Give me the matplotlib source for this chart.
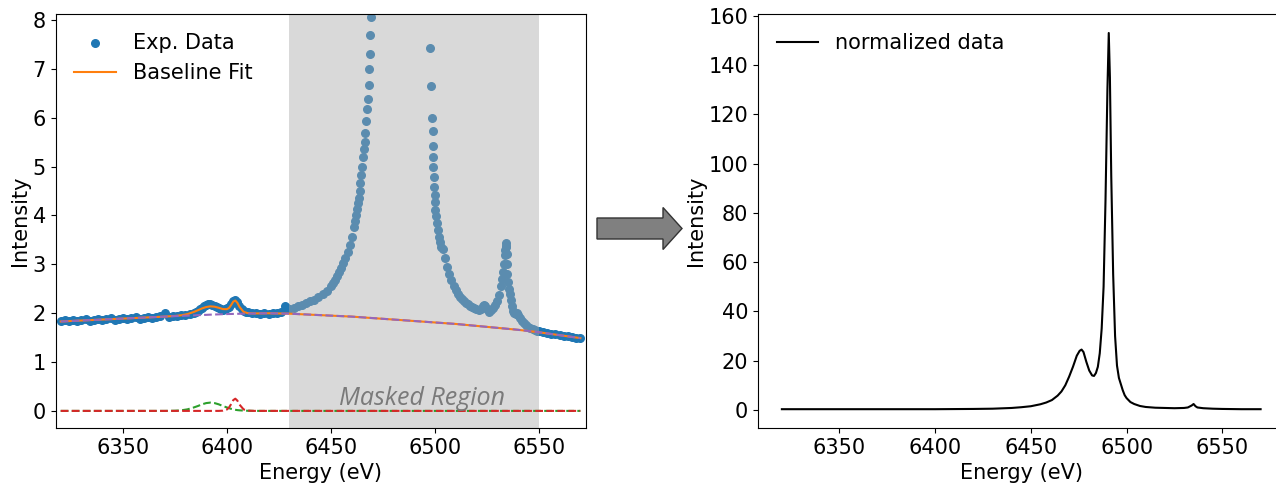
import matplotlib
matplotlib.use("Agg")
import matplotlib.pyplot as plt
from matplotlib.patches import FancyArrow

# experimental data (left panel)
exp_energy = [
    6320, 6322, 6324, 6326, 6328, 6330, 6332, 6334, 6336, 6338,
    6340, 6342, 6344, 6346, 6348, 6350, 6352, 6354, 6356, 6358,
    6360, 6362, 6364, 6366, 6368, 6370, 6372, 6374, 6376, 6378,
    6380, 6382, 6384, 6385, 6386, 6387, 6388, 6389, 6390, 6391,
    6392, 6393, 6394, 6395, 6396, 6397, 6398, 6399, 6400, 6401,
    6402, 6403, 6404, 6405, 6406, 6407, 6408, 6409, 6410, 6412,
    6414, 6416, 6418, 6420, 6422, 6424, 6426, 6428, 6429, 6430,
    6432, 6434, 6436, 6438, 6440, 6442, 6444, 6446, 6448, 6450,
    6451, 6452, 6453, 6454, 6455, 6456, 6457, 6458, 6459, 6460,
    6461, 6461.5, 6462, 6462.5, 6463, 6463.4, 6463.8, 6464.2, 6464.6, 6465.0,
    6465.4, 6465.8, 6466.2, 6466.6, 6467.0, 6467.4, 6467.7, 6468.1, 6468.4, 6468.7,
    6469.0, 6469.3,
    6497.8, 6498.2, 6498.7, 6498.9, 6499.0, 6499.2, 6499.3, 6499.5, 6499.7, 6499.9,
    6500.1, 6500.3, 6500.6, 6501.0, 6501.5, 6502, 6502.5, 6503, 6504, 6505,
    6506, 6507, 6508, 6509, 6510, 6511, 6512, 6513, 6514, 6515,
    6516, 6517, 6518, 6519, 6520, 6521, 6522, 6523, 6523.5, 6524,
    6525, 6526, 6527, 6528, 6529, 6530, 6531, 6532, 6532.5, 6533,
    6533.3, 6533.6, 6533.8, 6534, 6534.1, 6534.3, 6534.5, 6534.7, 6534.9, 6535.2,
    6535.6, 6536, 6536.5, 6537, 6537.5, 6538, 6539, 6539.6, 6540.2, 6541,
    6542, 6543, 6544, 6545, 6546, 6547, 6548, 6549, 6550, 6552,
    6554, 6556, 6558, 6560, 6562, 6564, 6566, 6568, 6570,
]
exp_intensity = [
    1.84, 1.86, 1.83, 1.87, 1.85, 1.86, 1.88, 1.85, 1.87, 1.89,
    1.86, 1.88, 1.90, 1.87, 1.89, 1.91, 1.88, 1.90, 1.92, 1.89,
    1.91, 1.93, 1.90, 1.92, 1.94, 2.01, 1.92, 1.95, 1.94, 1.97,
    1.96, 1.99, 2.01, 2.03, 2.05, 2.08, 2.11, 2.14, 2.17, 2.19,
    2.18, 2.16, 2.14, 2.12, 2.10, 2.08, 2.07, 2.08, 2.10, 2.13,
    2.19, 2.25, 2.27, 2.22, 2.14, 2.08, 2.05, 2.03, 2.02, 2.00,
    2.01, 1.99, 2.00, 1.99, 2.01, 2.00, 2.03, 2.14, 2.10, 2.08,
    2.11, 2.14, 2.17, 2.20, 2.24, 2.28, 2.33, 2.39, 2.46, 2.55,
    2.61, 2.68, 2.76, 2.84, 2.93, 3.03, 3.13, 3.25, 3.39, 3.55,
    3.76, 3.88, 4.00, 4.13, 4.25, 4.36, 4.50, 4.66, 4.82, 5.00,
    5.20, 5.37, 5.51, 5.69, 5.94, 6.18, 6.39, 6.67, 6.99, 7.30,
    7.70, 8.06,
    7.42, 6.65, 6.00, 5.72, 5.43, 5.20, 5.00, 4.78, 4.58, 4.42,
    4.28, 4.12, 3.98, 3.85, 3.70, 3.56, 3.45, 3.36, 3.32, 3.12,
    2.95, 2.80, 2.67, 2.56, 2.47, 2.40, 2.34, 2.29, 2.25, 2.21,
    2.18, 2.15, 2.12, 2.10, 2.08, 2.07, 2.09, 2.14, 2.17, 2.15,
    2.08, 2.02, 2.06, 2.10, 2.16, 2.25, 2.38, 2.55, 2.70, 2.85,
    3.00, 3.20, 3.30, 3.38, 3.43, 3.35, 3.22, 3.00, 2.80, 2.64,
    2.50, 2.40, 2.28, 2.15, 2.05, 2.00, 1.98, 2.00, 1.96, 1.90,
    1.84, 1.79, 1.75, 1.72, 1.70, 1.68, 1.66, 1.64, 1.63, 1.61,
    1.60, 1.58, 1.57, 1.56, 1.54, 1.53, 1.52, 1.50, 1.49,
]

# fitted model components (left panel)
model_energy = [
    6320, 6330, 6340, 6350, 6360, 6370, 6375, 6378, 6381, 6384,
    6386, 6388, 6390, 6392, 6394, 6396, 6398, 6400, 6401, 6402,
    6403, 6404, 6405, 6406, 6408, 6410, 6413, 6416, 6420, 6430,
    6440, 6450, 6460, 6470, 6480, 6490, 6500, 6510, 6520, 6530,
    6540, 6550, 6560, 6570,
]
baseline = [
    1.83, 1.85, 1.87, 1.89, 1.91, 1.93, 1.94, 1.945, 1.95, 1.955,
    1.96, 1.963, 1.966, 1.97, 1.973, 1.976, 1.979, 1.982, 1.983, 1.984,
    1.985, 1.986, 1.987, 1.988, 1.99, 1.992, 1.994, 1.996, 1.998, 1.99,
    1.97, 1.95, 1.93, 1.90, 1.87, 1.84, 1.81, 1.78, 1.74, 1.70,
    1.66, 1.61, 1.55, 1.49,
]
peak_green = [
    0, 0, 0, 0, 0, 0, 0.004, 0.012, 0.032, 0.07,
    0.10, 0.135, 0.16, 0.17, 0.16, 0.135, 0.10, 0.07, 0.055, 0.042,
    0.032, 0.023, 0.016, 0.012, 0.006, 0.003, 0.001, 0, 0, 0,
    0, 0, 0, 0, 0, 0, 0, 0, 0, 0,
    0, 0, 0, 0,
]
peak_red = [
    0, 0, 0, 0, 0, 0, 0, 0, 0, 0,
    0, 0, 0, 0, 0, 0, 0.005, 0.03, 0.07, 0.14,
    0.22, 0.25, 0.21, 0.13, 0.03, 0.006, 0, 0, 0, 0,
    0, 0, 0, 0, 0, 0, 0, 0, 0, 0,
    0, 0, 0, 0,
]
fit_total = [b + g + r for b, g, r in zip(baseline, peak_green, peak_red)]

# normalized data (right panel)
norm_energy = [
    6320, 6340, 6360, 6380, 6400, 6420, 6430, 6440, 6445, 6450,
    6455, 6458, 6461, 6464, 6466, 6468, 6470, 6472, 6474, 6475.5,
    6476.5, 6477.5, 6479, 6480.5, 6482, 6483, 6484, 6485, 6486, 6487,
    6488, 6489, 6490, 6490.7, 6491.3, 6492, 6493, 6494, 6495, 6496,
    6497, 6498, 6499, 6500, 6502, 6504, 6507, 6510, 6515, 6520,
    6525, 6530, 6532, 6534, 6535, 6536, 6537, 6540, 6545, 6550,
    6560, 6570,
]
norm_intensity = [
    0.3, 0.3, 0.3, 0.3, 0.3, 0.4, 0.5, 0.8, 1.1, 1.5,
    2.3, 3.0, 4.0, 5.8, 7.5, 10.0, 13.5, 17.5, 22.0, 24.0,
    24.5, 23.5, 19.5, 16.0, 14.0, 13.8, 15.0, 17.5, 23.0, 33.0,
    50.0, 85.0, 130.0, 153.0, 135.0, 95.0, 55.0, 30.0, 18.0, 13.0,
    10.5, 8.0, 6.0, 4.8, 3.2, 2.4, 1.6, 1.2, 0.9, 0.8,
    0.7, 0.8, 1.0, 1.8, 2.4, 1.5, 1.0, 0.7, 0.5, 0.4,
    0.3, 0.3,
]

plt.rcParams['font.size'] = 15

fig = plt.figure(figsize=(12.76, 4.84), dpi=100)
ax1 = fig.add_axes([0.0435, 0.1157, 0.4154, 0.855])
ax2 = fig.add_axes([0.594, 0.1157, 0.4127, 0.855])

# left panel
ax1.scatter(exp_energy, exp_intensity, s=30, color='#1f77b4', label='Exp. Data')
ax1.axvspan(6430, 6550, color='darkgray', alpha=0.44, lw=0)
ax1.plot(model_energy, fit_total, color='#ff7f0e', lw=1.5, label='Baseline Fit')
ax1.plot(model_energy, baseline, '--', color='#9467bd', lw=1.5)
ax1.plot(model_energy, peak_green, '--', color='#2ca02c', lw=1.5)
ax1.plot(model_energy, peak_red, '--', color='#d62728', lw=1.5)
ax1.text(6494, 0.13, 'Masked Region', ha='center', va='baseline', fontsize=18,
         style='italic', family='Open Sans', color='#7a7a7a')
ax1.set_xlim(6317.5, 6572.5)
ax1.set_ylim(-0.35, 8.12)
ax1.set_xticks([6350, 6400, 6450, 6500, 6550])
ax1.set_xlabel('Energy (eV)')
ax1.set_ylabel('Intensity', labelpad=2)
ax1.legend(loc='upper left', frameon=False)

# right panel
ax2.plot(norm_energy, norm_intensity, color='black', lw=1.5, label='normalized data')
ax2.set_xticks([6350, 6400, 6450, 6500, 6550])
ax2.set_xlabel('Energy (eV)')
ax2.set_ylabel('Intensity', labelpad=2)
ax2.legend(loc='upper left', frameon=False)

# arrow between panels (inch coordinates)
arrow = FancyArrow(5.97, 2.555, 0.85, 0, width=0.21, head_width=0.42, head_length=0.19,
                   length_includes_head=True, facecolor='#808080', edgecolor='#333333',
                   lw=1, transform=fig.dpi_scale_trans)
fig.add_artist(arrow)

plt.savefig('out.png', dpi=100)
